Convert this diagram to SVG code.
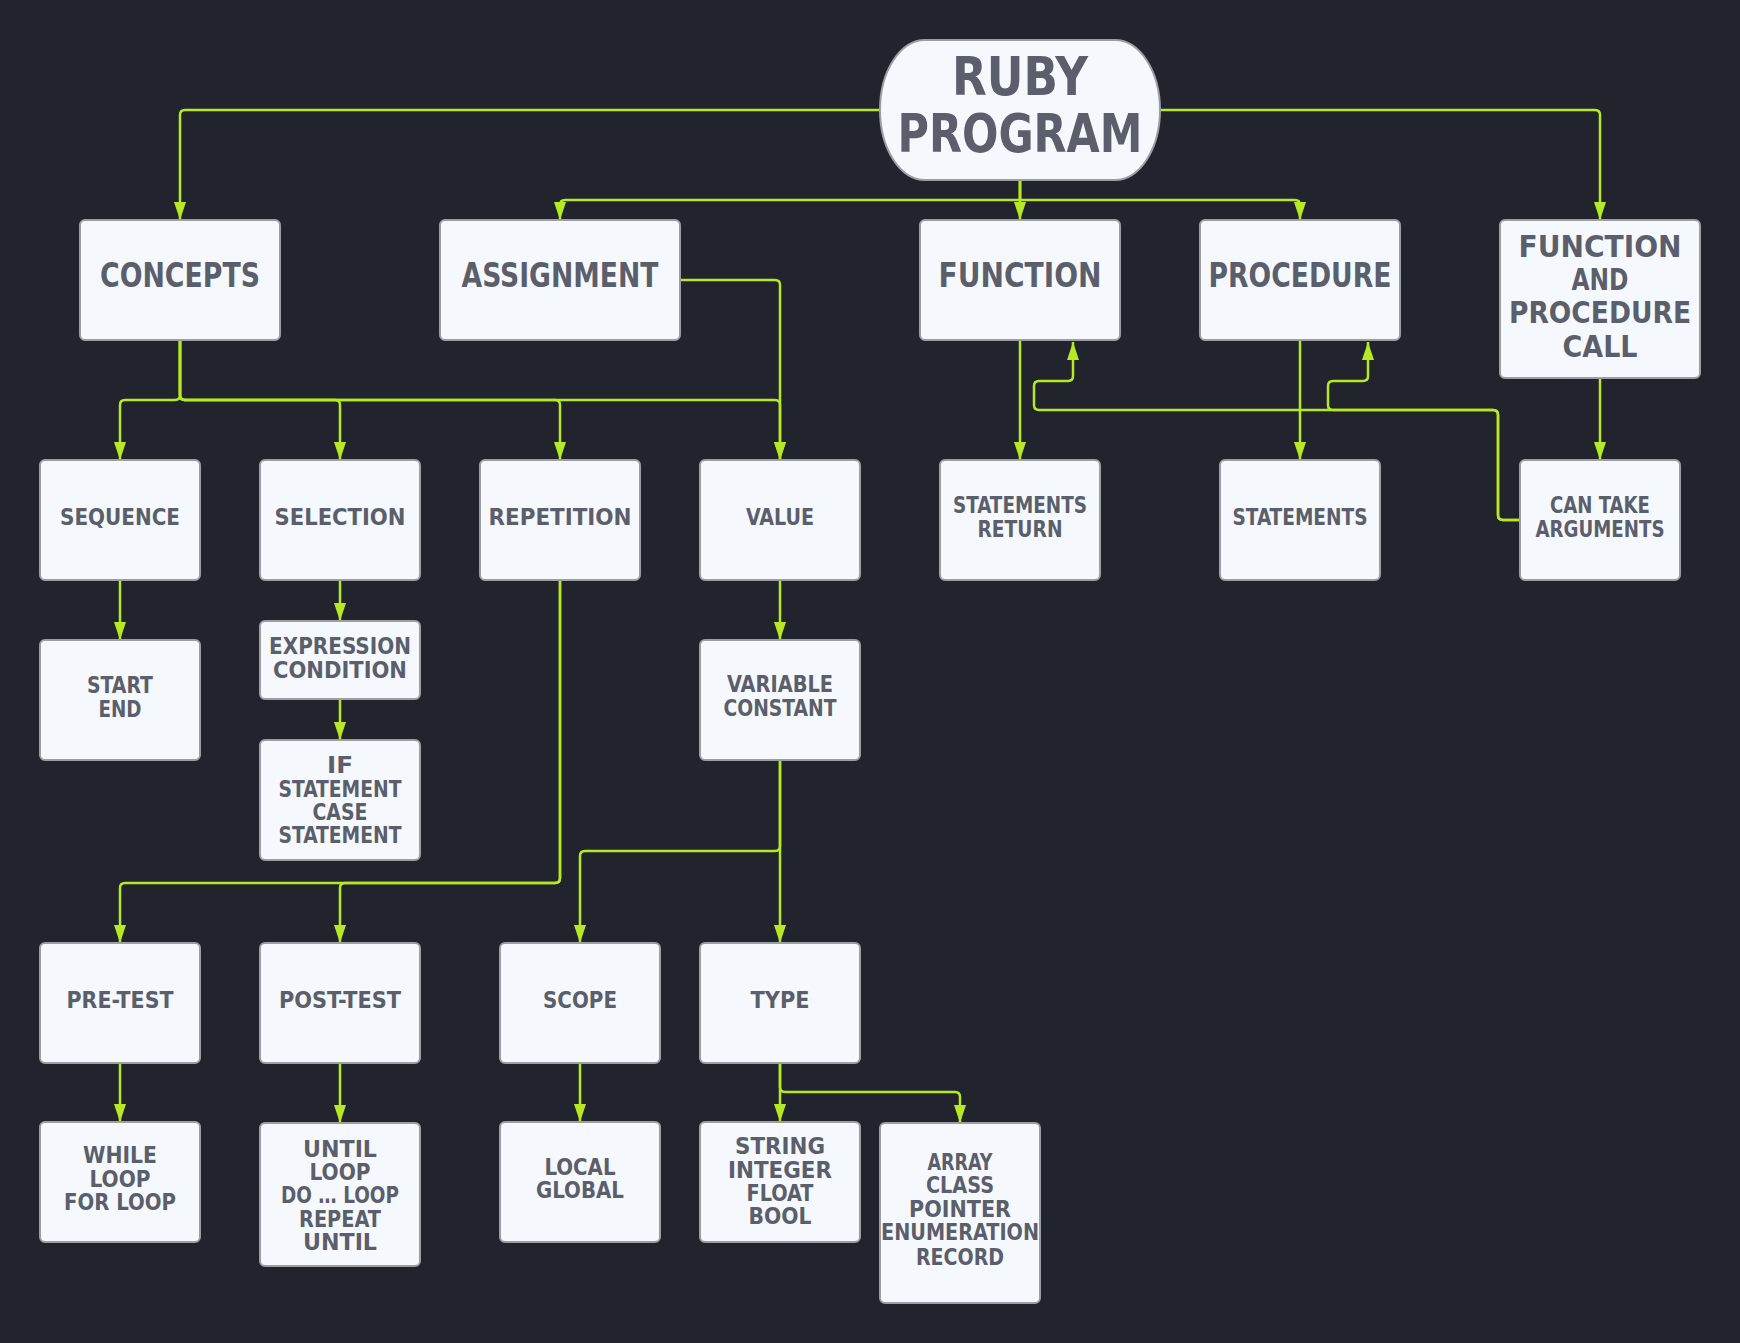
<svg xmlns="http://www.w3.org/2000/svg" width="1740" height="1343" viewBox="0 0 1740 1343">
<defs>
<style>
.bg{fill:#21242d}
.box{fill:#f5f9fd;stroke:#9c9ea3;stroke-width:2}
.t{font-family:"DejaVu Sans Condensed","DejaVu Sans","Liberation Sans Narrow",sans-serif;font-weight:bold;fill:#5b5e6b;text-anchor:middle}
.s{font-size:23px}
.m{font-size:33px}
.m2{font-size:31px}
.l{font-size:54px}
.e{fill:none;stroke:#b8e825;stroke-width:2.5;marker-end:url(#arr)}
</style>
<marker id="arr" markerUnits="userSpaceOnUse" markerWidth="18" markerHeight="12" refX="18" refY="6" orient="auto">
<path d="M0,0 L18,6 L0,12 z" fill="#b8e825"/>
</marker>
</defs>
<rect class="bg" x="0" y="0" width="1740" height="1343"/>

<g id="connectors">
<path class="e" d="M880,110 H185 Q180,110 180,115 V220"/>
<path class="e" d="M1160,110 H1595 Q1600,110 1600,115 V220"/>
<path class="e" d="M1020,180 V220"/>
<path class="e" d="M1020,180 V200 H565 Q560,200 560,205 V220"/>
<path class="e" d="M1020,180 V200 H1295 Q1300,200 1300,205 V220"/>
<path class="e" d="M180,340 V395 Q180,400 175,400 H125 Q120,400 120,405 V460"/>
<path class="e" d="M180,340 V395 Q180,400 185,400 H335 Q340,400 340,405 V460"/>
<path class="e" d="M180,340 V395 Q180,400 185,400 H555 Q560,400 560,405 V460"/>
<path class="e" d="M180,340 V395 Q180,400 185,400 H775 Q780,400 780,405 V460"/>
<path class="e" d="M680,280 H775 Q780,280 780,285 V460"/>
<path class="e" d="M120,580 V640"/>
<path class="e" d="M340,580 V621"/>
<path class="e" d="M340,699 V740"/>
<path class="e" d="M560,580 V878 Q560,883 555,883 H125 Q120,883 120,888 V943"/>
<path class="e" d="M560,580 V878 Q560,883 555,883 H345 Q340,883 340,888 V943"/>
<path class="e" d="M780,580 V640"/>
<path class="e" d="M780,760 V846 Q780,851 775,851 H585 Q580,851 580,856 V943"/>
<path class="e" d="M780,760 V943"/>
<path class="e" d="M780,1063 V1122"/>
<path class="e" d="M780,1063 V1087 Q780,1092 785,1092 H955 Q960,1092 960,1097 V1123"/>
<path class="e" d="M580,1063 V1122"/>
<path class="e" d="M120,1063 V1122"/>
<path class="e" d="M340,1063 V1123"/>
<path class="e" d="M1020,340 V460"/>
<path class="e" d="M1300,340 V460"/>
<path class="e" d="M1600,378 V460"/>
<path class="e" d="M1520,520 H1503 Q1498,520 1498,515 V415 Q1498,410 1493,410 H1039 Q1034,410 1034,405 V386 Q1034,381 1039,381 H1068 Q1073,381 1073,376 V342"/>
<path class="e" d="M1520,520 H1503 Q1498,520 1498,515 V415 Q1498,410 1493,410 H1333 Q1328,410 1328,405 V386 Q1328,381 1333,381 H1363 Q1368,381 1368,376 V342"/>
</g>

<g id="ruby">
<rect class="box" x="880" y="40" width="280" height="140" rx="45" ry="70"/>
<text class="t l" x="1020" y="95" textLength="136" lengthAdjust="spacingAndGlyphs">RUBY</text>
<text class="t l" x="1020" y="152" textLength="245" lengthAdjust="spacingAndGlyphs">PROGRAM</text>
</g>

<g id="concepts">
<rect class="box" x="80" y="220" width="200" height="120" rx="5"/>
<text class="t m" x="180" y="287" textLength="160" lengthAdjust="spacingAndGlyphs">CONCEPTS</text>
</g>
<g id="assignment">
<rect class="box" x="440" y="220" width="240" height="120" rx="5"/>
<text class="t m" x="560" y="287" textLength="197" lengthAdjust="spacingAndGlyphs">ASSIGNMENT</text>
</g>
<g id="function">
<rect class="box" x="920" y="220" width="200" height="120" rx="5"/>
<text class="t m" x="1020" y="287" textLength="163" lengthAdjust="spacingAndGlyphs">FUNCTION</text>
</g>
<g id="procedure">
<rect class="box" x="1200" y="220" width="200" height="120" rx="5"/>
<text class="t m" x="1300" y="287" textLength="183" lengthAdjust="spacingAndGlyphs">PROCEDURE</text>
</g>
<g id="call">
<rect class="box" x="1500" y="220" width="200" height="158" rx="5"/>
<text class="t m2" x="1600" y="257" textLength="163" lengthAdjust="spacingAndGlyphs">FUNCTION</text>
<text class="t m2" x="1600" y="290" textLength="57" lengthAdjust="spacingAndGlyphs">AND</text>
<text class="t m2" x="1600" y="323" textLength="182" lengthAdjust="spacingAndGlyphs">PROCEDURE</text>
<text class="t m2" x="1600" y="357" textLength="75" lengthAdjust="spacingAndGlyphs">CALL</text>
</g>

<g id="sequence">
<rect class="box" x="40" y="460" width="160" height="120" rx="5"/>
<text class="t s" x="120" y="525" textLength="120" lengthAdjust="spacingAndGlyphs">SEQUENCE</text>
</g>
<g id="selection">
<rect class="box" x="260" y="460" width="160" height="120" rx="5"/>
<text class="t s" x="340" y="525" textLength="131" lengthAdjust="spacingAndGlyphs">SELECTION</text>
</g>
<g id="repetition">
<rect class="box" x="480" y="460" width="160" height="120" rx="5"/>
<text class="t s" x="560" y="525" textLength="143" lengthAdjust="spacingAndGlyphs">REPETITION</text>
</g>
<g id="value">
<rect class="box" x="700" y="460" width="160" height="120" rx="5"/>
<text class="t s" x="780" y="525" textLength="68" lengthAdjust="spacingAndGlyphs">VALUE</text>
</g>
<g id="statements-return">
<rect class="box" x="940" y="460" width="160" height="120" rx="5"/>
<text class="t s" x="1020" y="513" textLength="134" lengthAdjust="spacingAndGlyphs">STATEMENTS</text>
<text class="t s" x="1020" y="537" textLength="85" lengthAdjust="spacingAndGlyphs">RETURN</text>
</g>
<g id="statements">
<rect class="box" x="1220" y="460" width="160" height="120" rx="5"/>
<text class="t s" x="1300" y="525" textLength="135" lengthAdjust="spacingAndGlyphs">STATEMENTS</text>
</g>
<g id="arguments">
<rect class="box" x="1520" y="460" width="160" height="120" rx="5"/>
<text class="t s" x="1600" y="513" textLength="100" lengthAdjust="spacingAndGlyphs">CAN TAKE</text>
<text class="t s" x="1600" y="537" textLength="129" lengthAdjust="spacingAndGlyphs">ARGUMENTS</text>
</g>

<g id="startend">
<rect class="box" x="40" y="640" width="160" height="120" rx="5"/>
<text class="t s" x="120" y="693" textLength="66" lengthAdjust="spacingAndGlyphs">START</text>
<text class="t s" x="120" y="717" textLength="43" lengthAdjust="spacingAndGlyphs">END</text>
</g>
<g id="expression">
<rect class="box" x="260" y="621" width="160" height="78" rx="5"/>
<text class="t s" x="340" y="654" textLength="142" lengthAdjust="spacingAndGlyphs">EXPRESSION</text>
<text class="t s" x="340" y="678" textLength="134" lengthAdjust="spacingAndGlyphs">CONDITION</text>
</g>
<g id="ifcase">
<rect class="box" x="260" y="740" width="160" height="120" rx="5"/>
<text class="t s" x="340" y="773" textLength="26" lengthAdjust="spacingAndGlyphs">IF</text>
<text class="t s" x="340" y="797" textLength="123" lengthAdjust="spacingAndGlyphs">STATEMENT</text>
<text class="t s" x="340" y="820" textLength="55" lengthAdjust="spacingAndGlyphs">CASE</text>
<text class="t s" x="340" y="843" textLength="123" lengthAdjust="spacingAndGlyphs">STATEMENT</text>
</g>
<g id="varconst">
<rect class="box" x="700" y="640" width="160" height="120" rx="5"/>
<text class="t s" x="780" y="692" textLength="106" lengthAdjust="spacingAndGlyphs">VARIABLE</text>
<text class="t s" x="780" y="716" textLength="113" lengthAdjust="spacingAndGlyphs">CONSTANT</text>
</g>

<g id="pretest">
<rect class="box" x="40" y="943" width="160" height="120" rx="5"/>
<text class="t s" x="120" y="1008" textLength="107" lengthAdjust="spacingAndGlyphs">PRE-TEST</text>
</g>
<g id="posttest">
<rect class="box" x="260" y="943" width="160" height="120" rx="5"/>
<text class="t s" x="340" y="1008" textLength="122" lengthAdjust="spacingAndGlyphs">POST-TEST</text>
</g>
<g id="scope">
<rect class="box" x="500" y="943" width="160" height="120" rx="5"/>
<text class="t s" x="580" y="1008" textLength="74" lengthAdjust="spacingAndGlyphs">SCOPE</text>
</g>
<g id="type">
<rect class="box" x="700" y="943" width="160" height="120" rx="5"/>
<text class="t s" x="780" y="1008" textLength="59" lengthAdjust="spacingAndGlyphs">TYPE</text>
</g>

<g id="whileloop">
<rect class="box" x="40" y="1122" width="160" height="120" rx="5"/>
<text class="t s" x="120" y="1163" textLength="74" lengthAdjust="spacingAndGlyphs">WHILE</text>
<text class="t s" x="120" y="1187" textLength="61" lengthAdjust="spacingAndGlyphs">LOOP</text>
<text class="t s" x="120" y="1210" textLength="112" lengthAdjust="spacingAndGlyphs">FOR LOOP</text>
</g>
<g id="untilloop">
<rect class="box" x="260" y="1123" width="160" height="143" rx="5"/>
<text class="t s" x="340" y="1157" textLength="74" lengthAdjust="spacingAndGlyphs">UNTIL</text>
<text class="t s" x="340" y="1180" textLength="61" lengthAdjust="spacingAndGlyphs">LOOP</text>
<text class="t s" x="340" y="1203" textLength="118" lengthAdjust="spacingAndGlyphs">DO … LOOP</text>
<text class="t s" x="340" y="1227" textLength="82" lengthAdjust="spacingAndGlyphs">REPEAT</text>
<text class="t s" x="340" y="1250" textLength="74" lengthAdjust="spacingAndGlyphs">UNTIL</text>
</g>
<g id="localglobal">
<rect class="box" x="500" y="1122" width="160" height="120" rx="5"/>
<text class="t s" x="580" y="1175" textLength="71" lengthAdjust="spacingAndGlyphs">LOCAL</text>
<text class="t s" x="580" y="1198" textLength="88" lengthAdjust="spacingAndGlyphs">GLOBAL</text>
</g>
<g id="primitives">
<rect class="box" x="700" y="1122" width="160" height="120" rx="5"/>
<text class="t s" x="780" y="1154" textLength="90" lengthAdjust="spacingAndGlyphs">STRING</text>
<text class="t s" x="780" y="1178" textLength="104" lengthAdjust="spacingAndGlyphs">INTEGER</text>
<text class="t s" x="780" y="1201" textLength="67" lengthAdjust="spacingAndGlyphs">FLOAT</text>
<text class="t s" x="780" y="1224" textLength="63" lengthAdjust="spacingAndGlyphs">BOOL</text>
</g>
<g id="composites">
<rect class="box" x="880" y="1123" width="160" height="180" rx="5"/>
<text class="t s" x="960" y="1170" textLength="65" lengthAdjust="spacingAndGlyphs">ARRAY</text>
<text class="t s" x="960" y="1193" textLength="68" lengthAdjust="spacingAndGlyphs">CLASS</text>
<text class="t s" x="960" y="1217" textLength="102" lengthAdjust="spacingAndGlyphs">POINTER</text>
<text class="t s" x="960" y="1240" textLength="158" lengthAdjust="spacingAndGlyphs">ENUMERATION</text>
<text class="t s" x="960" y="1265" textLength="88" lengthAdjust="spacingAndGlyphs">RECORD</text>
</g>
</svg>
